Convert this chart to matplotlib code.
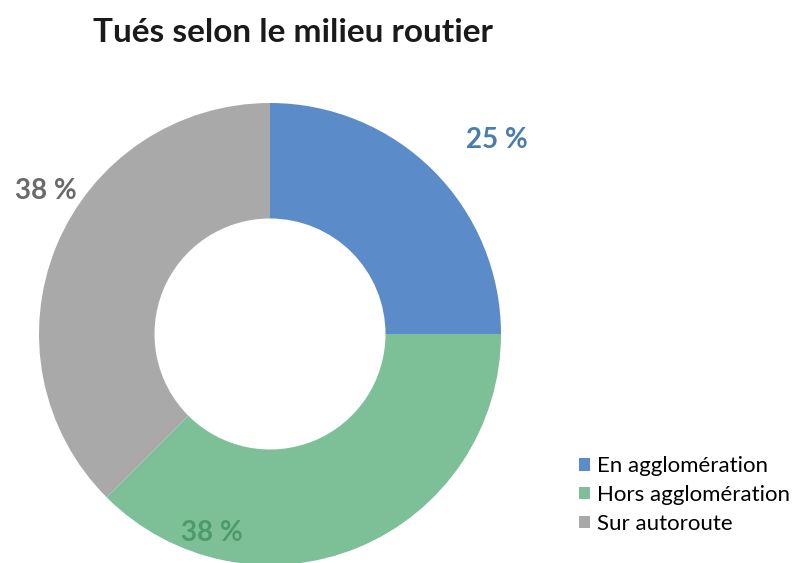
import matplotlib.pyplot as plt
from matplotlib.patches import Patch

categories = ['En agglomération', 'Hors agglomération', 'Sur autoroute']
values = [25, 37.5, 37.5]
labels = ['25 %', '38 %', '38 %']
colors = ['#5B8BC8', '#7DBF97', '#A9A9A9']
label_colors = ['#4A7DAE', '#4E9A6A', '#6A6A6A']
# label positions in pie-axes units (radius = 1)
label_pos = [(0.98, 0.84), (-0.25, -0.86), (-0.97, 0.62)]

plt.rcParams['font.family'] = ['Lato', 'DejaVu Sans']

W, H = 801, 563
fig = plt.figure(figsize=(W / 100, H / 100), dpi=100)

# donut centre (270, 334) px, outer radius 231 px
cx, cy, r = 270, 334, 231
ax = fig.add_axes([(cx - r) / W, (H - cy - r) / H, 2 * r / W, 2 * r / H])
ax.pie(values, colors=colors, startangle=90, counterclock=False, radius=1,
       wedgeprops=dict(width=0.5, linewidth=0))
ax.set_xlim(-1, 1)
ax.set_ylim(-1, 1)
ax.set_aspect('equal')
ax.axis('off')

for txt, c, (x, y) in zip(labels, label_colors, label_pos):
    ax.text(x, y, txt, color=c, fontsize=20, fontweight='bold',
            ha='center', va='center', clip_on=False)

fig.text(293 / W, 1 - 33 / H, 'Tués selon le milieu routier', fontsize=24,
         fontweight='bold', ha='center', va='center', color='#1a1a1a')

handles = [Patch(facecolor=c, edgecolor='none') for c in colors]
fig.legend(handles, categories, loc='center left',
           bbox_to_anchor=(559 / W, 1 - 495 / H), frameon=False,
           fontsize=16, handlelength=0.5, handleheight=0.5,
           handletextpad=0.3, labelspacing=0.4)

fig.savefig('out.png', dpi=100)
